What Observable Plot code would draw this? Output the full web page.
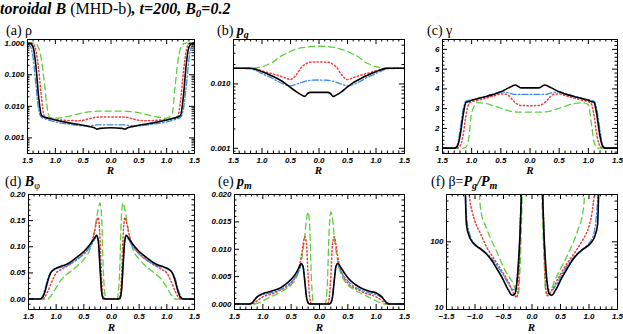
<!DOCTYPE html>
<html><head><meta charset="utf-8">
<script src="https://cdn.jsdelivr.net/npm/d3@7"></script>
<script src="https://cdn.jsdelivr.net/npm/@observablehq/plot@0.6"></script>
<style>
body{margin:0;background:#fff;}
#root{position:relative;width:623px;height:334px;overflow:hidden;background:#fff;}
.pl{position:absolute;}
#txt{position:absolute;left:0;top:0;}
</style></head><body><div id="root">
<svg id="txt" width="623" height="334" font-family="'Liberation Serif','Times New Roman',serif" fill="#000">
<text x="0" y="14" font-size="16"><tspan font-weight="bold" font-style="italic">toroidal B</tspan> (MHD-b)<tspan font-weight="bold" font-style="italic">, t=200, B<tspan font-size="11" dy="3">0</tspan><tspan dy="-3">=0.2</tspan></tspan></text>
<text x="6" y="34.5" font-size="14">(a)  ρ</text>
<text x="217" y="34.5" font-size="14">(b) <tspan font-weight="bold" font-style="italic">p<tspan font-size="10" dy="3">g</tspan></tspan></text>
<text x="427" y="34.5" font-size="14">(c) γ</text>
<text x="5" y="186" font-size="14">(d)  <tspan font-weight="bold" font-style="italic">B</tspan><tspan font-size="10" dy="3">φ</tspan></text>
<text x="218" y="186" font-size="14">(e) <tspan font-weight="bold" font-style="italic">p<tspan font-size="10" dy="3">m</tspan></tspan></text>
<text x="431" y="186" font-size="14">(f) β=<tspan font-weight="bold" font-style="italic">P<tspan font-size="10" dy="3">g</tspan><tspan dy="-3">/P</tspan><tspan font-size="10" dy="3">m</tspan></tspan></text>
<g font-size="11" font-weight="bold" font-style="italic" text-anchor="middle">
<text x="110.5" y="174">R</text><text x="318.5" y="174">R</text><text x="530" y="174">R</text>
<text x="111.5" y="331">R</text><text x="319.5" y="331">R</text><text x="531.5" y="331">R</text>
</g>
</svg>
</div>
<script>
// ---------- data ----------
const X_MAJOR = [-1.5,-1,-0.5,0,0.5,1,1.5];

// (a) density
const R_a = [-1.5,-1.45,-1.4,-1.35,-1.3,-1.25,-1.2,-1.15,-1.1,-1.0,-0.8,-0.6,-0.5,-0.4,-0.3,-0.25,-0.2,0,0.2,0.25,0.3,0.4,0.5,0.6,0.8,1.0,1.1,1.15,1.2,1.25,1.3,1.35,1.4,1.45,1.5];
const rho_black = [1.0,0.98,0.75,0.2,0.02,0.0052,0.0046,0.0043,0.0041,0.0037,0.0031,0.0027,0.0025,0.0023,0.0021,0.0019,0.002, 0.0021, 0.002,0.0019,0.0021,0.0023,0.0025,0.0027,0.0031,0.0037,0.0041,0.0043,0.0046,0.0052,0.02,0.2,0.75,0.98,1.0];
const rho_blue  = [0.95,0.8,0.35,0.05,0.008,0.0045,0.0041,0.0038,0.0036,0.0032,0.0028,0.0025,0.0024,0.0024,0.0025,0.0026,0.0026, 0.0026, 0.0026,0.0026,0.0025,0.0024,0.0024,0.0025,0.0028,0.0032,0.0036,0.0038,0.0041,0.0045,0.008,0.04,0.3,0.8,0.95];
const rho_red   = [1.0,1.0,0.95,0.6,0.15,0.02,0.005,0.0042,0.004,0.0038,0.0036,0.0035,0.0036,0.004,0.0044,0.0045,0.0046, 0.0046, 0.0046,0.0045,0.0044,0.004,0.0036,0.0035,0.0036,0.0038,0.004,0.0042,0.0048,0.015,0.12,0.55,0.95,1.0,1.0];
const rho_green = [1.0,1.0,1.0,0.95,0.7,0.3,0.06,0.01,0.0045,0.0042,0.0047,0.0057,0.0063,0.0067,0.0069,0.007,0.007, 0.007, 0.007,0.007,0.0069,0.0067,0.0063,0.0057,0.0047,0.0042,0.006,0.04,0.25,0.7,0.95,1.0,1.0,1.0,1.0];

// (b) gas pressure
const R_b = [-1.5,-1.2,-1.1,-1.0,-0.9,-0.8,-0.7,-0.6,-0.5,-0.4,-0.3,-0.25,-0.2,-0.15,0,0.15,0.2,0.25,0.3,0.4,0.5,0.6,0.7,0.8,0.9,1.0,1.1,1.2,1.5];
const pg_black = [0.0175,0.0175,0.0168,0.0155,0.0143,0.013,0.0117,0.0103,0.0088,0.0076,0.0067,0.0064,0.0071,0.0074, 0.0074, 0.0074,0.0071,0.0064,0.0067,0.0076,0.009,0.0105,0.0117,0.013,0.0143,0.0155,0.0168,0.0175,0.0175];
const pg_red   = [0.0175,0.0175,0.0168,0.016,0.015,0.0142,0.0134,0.0125,0.0117,0.0138,0.0185,0.02,0.0212,0.0217, 0.022, 0.0217,0.0212,0.02,0.0185,0.0138,0.0117,0.0125,0.0134,0.0142,0.015,0.016,0.0168,0.0175,0.0175];
const pg_green = [0.0175,0.0176,0.0178,0.0185,0.02,0.022,0.026,0.029,0.032,0.0345,0.0365,0.037,0.0375,0.038, 0.0385, 0.038,0.0375,0.037,0.0365,0.0345,0.032,0.029,0.026,0.022,0.02,0.0185,0.0178,0.0176,0.0175];
const pg_blue  = [0.0175,0.0172,0.016,0.0145,0.0132,0.012,0.0107,0.0098,0.0093,0.0099,0.0106,0.011,0.0112,0.0114, 0.0115, 0.0114,0.0112,0.011,0.0106,0.0099,0.0093,0.0098,0.0107,0.012,0.0132,0.0145,0.016,0.0172,0.0175];

// (c) gamma
const R_c = [-1.5,-1.3,-1.25,-1.2,-1.15,-1.1,-1.05,-1.0,-0.9,-0.8,-0.7,-0.6,-0.5,-0.4,-0.3,-0.25,-0.2,-0.15,0,0.15,0.2,0.25,0.3,0.4,0.5,0.6,0.7,0.8,0.9,1.0,1.05,1.1,1.15,1.2,1.25,1.3,1.5];
const gam_black = [1.0,1.0,1.08,1.6,2.6,3.3,3.36,3.42,3.5,3.58,3.66,3.74,3.85,4.0,4.15,4.2,4.12,4.05, 4.05, 4.05,4.12,4.2,4.15,4.0,3.85,3.74,3.66,3.58,3.5,3.42,3.36,3.3,2.6,1.6,1.08,1.0,1.0];
const gam_blue  = [1.0,1.0,1.12,1.9,2.9,3.38,3.42,3.45,3.52,3.6,3.68,3.77,3.86,3.82,3.74,3.72,3.72,3.72, 3.72, 3.72,3.72,3.72,3.74,3.82,3.86,3.77,3.68,3.6,3.52,3.45,3.42,3.38,2.9,1.9,1.12,1.0,1.0];
const gam_red   = [1.0,1.0,1.0,1.1,1.6,2.6,3.25,3.35,3.42,3.5,3.58,3.66,3.75,3.72,3.45,3.3,3.2,3.16, 3.15, 3.16,3.2,3.3,3.45,3.72,3.75,3.66,3.58,3.5,3.42,3.35,3.25,2.6,1.6,1.1,1.0,1.0,1.0];
const gam_green = [1.0,1.0,1.0,1.0,1.0,1.05,1.5,2.8,3.3,3.28,3.22,3.12,3.02,2.92,2.85,2.83,2.82,2.82, 2.82, 2.82,2.82,2.83,2.85,2.92,3.02,3.12,3.22,3.28,3.3,3.2,2.3,1.3,1.0,1.0,1.0,1.0,1.0];

// (d) toroidal field
const R_d = [-1.5,-1.3,-1.25,-1.2,-1.15,-1.1,-1.05,-1.0,-0.9,-0.8,-0.7,-0.6,-0.5,-0.4,-0.35,-0.3,-0.27,-0.24,-0.21,-0.18,-0.15,-0.1,0,0.1,0.15,0.18,0.21,0.24,0.27,0.3,0.35,0.4,0.5,0.6,0.7,0.8,0.9,1.0,1.05,1.1,1.15,1.2,1.25,1.3,1.5];
const bphi_black = [0,0,0.003,0.015,0.035,0.05,0.056,0.059,0.063,0.067,0.074,0.082,0.091,0.103,0.11,0.118,0.122,0.112,0.065,0.015,0.001,0, 0, 0,0.001,0.015,0.065,0.112,0.122,0.118,0.11,0.103,0.091,0.082,0.074,0.067,0.063,0.059,0.056,0.05,0.035,0.015,0.003,0,0];
const bphi_blue  = [0,0,0.005,0.02,0.04,0.05,0.055,0.058,0.061,0.064,0.07,0.077,0.086,0.098,0.106,0.115,0.12,0.113,0.068,0.016,0.001,0, 0, 0,0.001,0.016,0.068,0.113,0.12,0.115,0.106,0.098,0.086,0.077,0.07,0.064,0.061,0.058,0.055,0.05,0.04,0.02,0.005,0,0];
const bphi_red   = [0,0,0,0.005,0.015,0.028,0.04,0.05,0.057,0.063,0.07,0.078,0.087,0.1,0.112,0.132,0.148,0.156,0.12,0.04,0.005,0, 0, 0,0.005,0.04,0.12,0.156,0.148,0.132,0.112,0.1,0.087,0.078,0.07,0.063,0.057,0.05,0.04,0.028,0.015,0.005,0,0,0];
const bphi_green = [0,0,0,0,0,0.005,0.013,0.022,0.038,0.048,0.056,0.065,0.076,0.092,0.108,0.135,0.155,0.172,0.184,0.16,0.06,0, 0, 0,0.06,0.16,0.184,0.172,0.155,0.135,0.108,0.092,0.076,0.065,0.056,0.048,0.038,0.022,0.013,0.005,0,0,0,0,0];

// (e) magnetic pressure
const R_e = [-1.5,-1.25,-1.2,-1.15,-1.1,-1.0,-0.9,-0.8,-0.7,-0.6,-0.5,-0.45,-0.4,-0.35,-0.32,-0.29,-0.26,-0.23,-0.2,-0.17,-0.14,-0.1,0,0.1,0.14,0.17,0.2,0.23,0.26,0.29,0.32,0.35,0.4,0.45,0.5,0.6,0.7,0.8,0.9,1.0,1.1,1.15,1.2,1.25,1.5];
const pm_black = [0,0,0.0001,0.0007,0.0013,0.0019,0.0022,0.0025,0.0029,0.0036,0.0045,0.0051,0.0059,0.0069,0.0074,0.0068,0.0042,0.0013,0.0002,0,0,0, 0, 0,0,0,0.0002,0.0013,0.0042,0.0068,0.0074,0.0071,0.0063,0.0055,0.0048,0.0038,0.0031,0.0026,0.0023,0.002,0.0013,0.0006,0.0001,0,0];
const pm_blue  = [0,0,0.0002,0.0008,0.0013,0.0017,0.002,0.0022,0.0026,0.0032,0.004,0.0046,0.0053,0.0063,0.0071,0.007,0.0045,0.0013,0.0002,0,0,0, 0, 0,0,0,0.0002,0.0013,0.0045,0.007,0.0071,0.0065,0.0056,0.0048,0.0042,0.0033,0.0027,0.0023,0.002,0.0017,0.0012,0.0007,0.0002,0,0];
const pm_red   = [0,0,0,0.0002,0.0006,0.0013,0.0017,0.002,0.0025,0.003,0.0038,0.0045,0.0055,0.0072,0.0088,0.0108,0.0123,0.011,0.005,0.001,0,0, 0, 0,0,0.001,0.005,0.011,0.0123,0.0108,0.0088,0.0072,0.0055,0.0045,0.0038,0.003,0.0025,0.002,0.0017,0.0013,0.0006,0.0002,0,0,0];
const pm_green = [0,0,0,0,0.0001,0.0006,0.0011,0.0016,0.0021,0.0027,0.0035,0.0041,0.005,0.0065,0.0079,0.0098,0.0125,0.0155,0.0168,0.0135,0.004,0, 0, 0,0.004,0.0135,0.0168,0.0155,0.0125,0.0098,0.0079,0.0065,0.005,0.0041,0.0035,0.0027,0.0021,0.0016,0.0011,0.0006,0.0001,0,0,0,0];

// (f) plasma beta
const R_f = [-1.5,-1.2,-1.15,-1.1,-1.05,-1.0,-0.9,-0.8,-0.7,-0.6,-0.5,-0.45,-0.4,-0.35,-0.3,-0.27,-0.24,-0.21,-0.18,-0.15,0,0.15,0.18,0.21,0.24,0.27,0.3,0.35,0.4,0.45,0.5,0.6,0.7,0.8,0.9,1.0,1.05,1.1,1.15,1.2,1.5];
const beta_black = [3000,3000,180,120,100,90,78,66,52,38,27,22,18.5,16.2,17,23,45,130,700,3000, 3000, 3000,700,130,45,23,17,16.2,18.5,22,27,38,52,66,78,90,100,120,180,3000,3000];
const beta_blue  = [3000,3000,250,135,105,92,80,68,56,43,32,27,23,20,19.5,25,50,160,900,3000, 3000, 3000,900,150,45,24,19.5,19.5,21.5,25,30,42,55,68,80,95,110,150,400,3000,3000];
const beta_red   = [3000,3000,3000,500,280,200,130,85,62,46,34,29,24,19,16,15,22,110,1000,3000, 3000, 3000,1000,100,22,16,16.5,19,23,28,33,46,60,80,110,170,260,600,3000,3000,3000];
const beta_green = [3000,3000,3000,3000,3000,3000,300,160,100,66,42,35,30,26,21,18,17,40,250,3000, 3000, 3000,300,60,18,17,18,21,27,33,40,58,88,145,300,3000,3000,3000,3000,3000,3000];

// ---------- helpers ----------
const STYLE = {
  green: {stroke: "#5ccf3c", strokeDasharray: "6,4", strokeWidth: 1.3},
  red:   {stroke: "#f23c3c", strokeDasharray: "1.3,2.4", strokeWidth: 1.5},
  blue:  {stroke: "#3d8be6", strokeDasharray: "6,2.2,1.5,2.2", strokeWidth: 1.3},
  black: {stroke: "#000", strokeWidth: 1.6}
};
const ORDER = ["green","red","blue","black"];
function rows(R, v) { return R.map((r, i) => ({R: r, v: v[i]})); }
function logMinor(lo, hi) {
  const out = [];
  for (let e = -5; e <= 4; e++) for (let m = 2; m <= 9; m++) {
    const t = m * Math.pow(10, e);
    if (t > lo && t < hi) out.push(t);
  }
  return out;
}
function linMinor(lo, hi, step, major) {
  const out = [];
  for (let k = Math.ceil(lo / step - 1e-9); k * step <= hi + 1e-12; k++) {
    const t = +(k * step).toFixed(6);
    if (!major.some(m => Math.abs(m - t) < step / 10)) out.push(t);
  }
  return out;
}
const X_MINOR = linMinor(-1.5, 1.5, 0.1, X_MAJOR);
const absFmt = d => Math.abs(d).toFixed(1);
const sgnFmt = d => (d < 0 ? "\u2212" : "") + Math.abs(d).toFixed(1);

const panels = [
  {L: 27, Rt: 194, T: 39, B: 153, y: {type: "log", domain: [3.2e-4, 1.31]}, yMajor: [0.001, 0.01, 0.1, 1], minor: "log", yFmt: d3.format(".3f"), xFmt: absFmt,
   R: R_a, s: {green: rho_green, red: rho_red, blue: rho_blue, black: rho_black}},
  {L: 233, Rt: 404, T: 39, B: 153, y: {type: "log", domain: [0.00083, 0.049]}, yMajor: [0.001, 0.01], minor: "log", yFmt: d3.format(".3f"), xFmt: absFmt,
   R: R_b, s: {green: pg_green, red: pg_red, blue: pg_blue, black: pg_black}},
  {L: 442, Rt: 617, T: 39, B: 153, y: {domain: [0.73, 6.5]}, yMajor: [1, 2, 3, 4, 5, 6], minor: 0.2, yFmt: d3.format("d"), xFmt: absFmt,
   R: R_c, s: {green: gam_green, red: gam_red, blue: gam_blue, black: gam_black}},
  {L: 28, Rt: 194, T: 194, B: 309, y: {domain: [-0.02, 0.2]}, yMajor: [0, 0.05, 0.1, 0.15, 0.2], minor: 0.01, yFmt: d3.format(".2f"), xFmt: absFmt,
   R: R_d, s: {green: bphi_green, red: bphi_red, blue: bphi_blue, black: bphi_black}},
  {L: 234, Rt: 404, T: 194, B: 309, y: {domain: [-0.001, 0.02]}, yMajor: [0, 0.005, 0.01, 0.015, 0.02], minor: 0.001, yFmt: d3.format(".3f"), xFmt: absFmt,
   R: R_e, s: {green: pm_green, red: pm_red, blue: pm_blue, black: pm_black}},
  {L: 446, Rt: 617, T: 194, B: 309, y: {type: "log", domain: [10, 500]}, yMajor: [10, 100], minor: "log", yFmt: d3.format("d"), xFmt: sgnFmt,
   R: R_f, s: {green: beta_green, red: beta_red, blue: beta_blue, black: beta_black}}
];

const root = document.getElementById("root");
const ML = 32, MR = 5, MT = 4, MB = 14;
for (const p of panels) {
  const W = p.Rt - p.L, H = p.B - p.T;
  const [lo, hi] = p.y.domain;
  const yMinor = p.minor === "log" ? logMinor(lo, hi) : linMinor(lo, hi, p.minor, p.yMajor);
  // a label sitting exactly on the bottom frame edge is lifted slightly, as in the reference
  const yLow = p.yMajor.filter(t => t === lo);
  const yRest = p.yMajor.filter(t => t !== lo);
  const marks = [];
  for (const k of ORDER) {
    marks.push(Plot.line(rows(p.R, p.s[k]), {x: "R", y: "v", curve: "monotone-x", clip: true, ...STYLE[k]}));
  }
  marks.push(
    Plot.frame({stroke: "#000", strokeWidth: 1}),
    Plot.tickX(X_MAJOR, {x: d => d, insetTop: H - 5, stroke: "#000"}),
    Plot.tickX(X_MAJOR, {x: d => d, insetBottom: H - 5, stroke: "#000"}),
    Plot.tickX(X_MINOR, {x: d => d, insetTop: H - 2.5, stroke: "#000"}),
    Plot.tickX(X_MINOR, {x: d => d, insetBottom: H - 2.5, stroke: "#000"}),
    Plot.tickY(p.yMajor, {y: d => d, insetRight: W - 5, stroke: "#000"}),
    Plot.tickY(p.yMajor, {y: d => d, insetLeft: W - 5, stroke: "#000"}),
    Plot.tickY(yMinor, {y: d => d, insetRight: W - 2.5, stroke: "#000"}),
    Plot.tickY(yMinor, {y: d => d, insetLeft: W - 2.5, stroke: "#000"}),
    Plot.axisX({ticks: X_MAJOR, tickSize: 0, tickPadding: 4, tickFormat: p.xFmt, label: null}),
    Plot.axisY({ticks: yRest, tickSize: 0, tickPadding: 3, tickFormat: p.yFmt, label: null})
  );
  if (yLow.length) marks.push(Plot.axisY({ticks: yLow, tickSize: 0, tickPadding: 3, dy: -2.5, tickFormat: p.yFmt, label: null}));
  const svg = Plot.plot({
    width: W + ML + MR, height: H + MT + MB,
    marginLeft: ML, marginRight: MR, marginTop: MT, marginBottom: MB,
    x: {domain: [-1.5, 1.5]},
    y: p.y,
    style: {fontFamily: "'Liberation Sans', Arial, sans-serif", fontSize: "8px", fontWeight: "bold", fontStyle: "italic", background: "transparent", color: "#000", overflow: "visible"},
    marks
  });
  svg.classList.add("pl");
  svg.style.left = (p.L - ML) + "px";
  svg.style.top = (p.T - MT) + "px";
  svg.style.position = "absolute";
  root.insertBefore(svg, document.getElementById("txt"));
}
</script>
</body></html>
